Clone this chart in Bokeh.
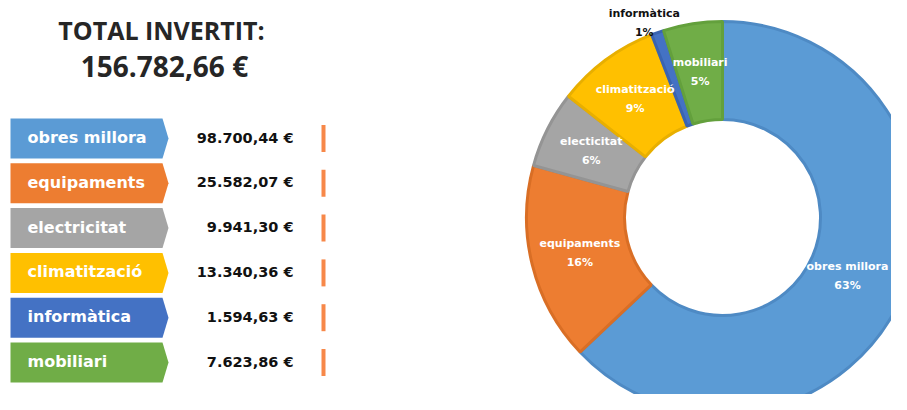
import math
from bokeh.plotting import figure
from bokeh.models import Range1d, ColumnDataSource
from bokeh.core.properties import value
from bokeh.embed import file_html
from bokeh.resources import INLINE

# ---- data ----
title_line1 = "TOTAL INVERTIT:"
title_line2 = "156.782,66 €"
categories = ["obres millora", "equipaments", "electricitat", "climatització", "informàtica", "mobiliari"]
amounts = [98700.44, 25582.07, 9941.30, 13340.36, 1594.63, 7623.86]
amount_labels = ["98.700,44 €", "25.582,07 €", "9.941,30 €", "13.340,36 €", "1.594,63 €", "7.623,86 €"]
donut_names = ["obres millora", "equipaments", "electicitat", "climatització", "informàtica", "mobiliari"]
colors = ["#5B9BD5", "#ED7D31", "#A5A5A5", "#FFC000", "#4472C4", "#70AD47"]
border_colors = ["#4E8AC4", "#D96E25", "#949494", "#E8AF00", "#3A64B0", "#63A03C"]

# ---- layout (screen-pixel coordinates of the picture) ----
W, H = 891, 394
def Y(y):
    return 410 - y

p = figure(width=W, height=H, output_backend="svg", toolbar_location=None,
           x_range=Range1d(0, W), y_range=Range1d(410 - H, 410),
           min_border=0, outline_line_color=None, background_fill_color="white")
p.axis.visible = False
p.grid.visible = False

LABEL_FONT = value("DejaVu Sans")
TITLE_FONT = value("Open Sans")

# Title
p.text(x=[161], y=[Y(29)], text=[title_line1], text_font=TITLE_FONT,
       text_font_style="bold", text_font_size="25px", text_color="#262626",
       text_align="center", text_baseline="middle")
p.text(x=[164], y=[Y(65)], text=[title_line2], text_font=TITLE_FONT,
       text_font_style="bold", text_font_size="28px", text_color="#262626",
       text_align="center", text_baseline="middle")

# Rows
top0, step, bh = 118, 44.8, 40
xs, ys, ty, by0, by1 = [], [], [], [], []
for i in range(len(categories)):
    top = top0 + i * step
    bot = top + bh
    mid = (top + bot) / 2
    xs.append([10, 162, 168, 162, 10])
    ys.append([Y(top), Y(top), Y(mid), Y(bot), Y(bot)])
    ty.append(Y(mid - 1))
    by0.append(Y(mid - 13.5))
    by1.append(Y(mid + 13.5))
p.patches(xs=xs, ys=ys, fill_color=colors, line_color=None)
p.text(x=[27] * len(categories), y=ty, text=categories, text_font=LABEL_FONT,
       text_font_style="bold", text_font_size="16px", text_color="white",
       text_align="left", text_baseline="middle")
p.text(x=[293] * len(categories), y=ty, text=amount_labels, text_font=LABEL_FONT,
       text_font_style="bold", text_font_size="14.5px", text_color="#111111",
       text_align="right", text_baseline="middle")
p.segment(x0=[323] * len(categories), y0=by0, x1=[323] * len(categories), y1=by1,
          line_color="#F67B35", line_width=4, line_alpha=0.9)

# Donut
cx, cy, r_in, r_out = 722, Y(217), 98, 196
total = sum(amounts)
starts, ends, mids = [], [], []
c = 0.0
for a in amounts:
    f = a / total
    starts.append(math.pi / 2 - 2 * math.pi * c)
    ends.append(math.pi / 2 - 2 * math.pi * (c + f))
    mids.append(math.pi / 2 - 2 * math.pi * (c + f / 2))
    c += f
src = ColumnDataSource(dict(start=starts, end=ends, color=colors, border=border_colors))
p.annular_wedge(x=cx, y=cy, inner_radius=r_in, outer_radius=r_out,
                start_angle="start", end_angle="end", direction="clock",
                fill_color="color", line_color="border", line_width=3, source=src)

label_r = [147, 147, 147, 147, 206, 147]
nudge_x = [-10, 0, 0, 0, -10, 0]
lx, ly, lt, lc = [], [], [], []
for i, name in enumerate(donut_names):
    pct = round(100 * amounts[i] / total)
    lx.append(cx + label_r[i] * math.cos(mids[i]) + nudge_x[i])
    ly.append(cy + label_r[i] * math.sin(mids[i]))
    lt.append(f"{name}\n{pct}%")
    lc.append("#111111" if i == 4 else "white")
p.text(x=lx, y=ly, text=lt, text_color=lc, text_font=LABEL_FONT, text_font_style="bold",
       text_font_size="11px", text_align="center", text_baseline="middle",
       text_line_height=1.45)

open("out.html", "w").write(file_html(p, INLINE))
